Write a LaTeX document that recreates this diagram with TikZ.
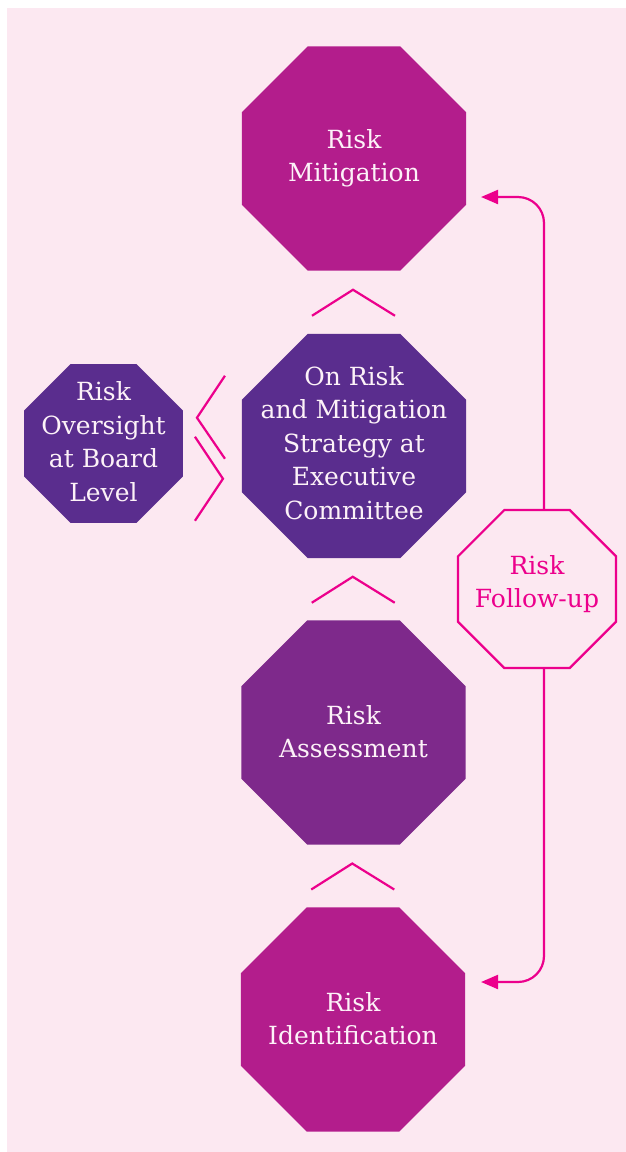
\documentclass[tikz,border=0pt]{standalone}
\usepackage{fontspec}
\setmainfont{DejaVu Serif}
\usetikzlibrary{shapes.geometric,arrows.meta,calc}
\definecolor{bgpink}{RGB}{252,232,241}
\definecolor{magentabox}{RGB}{179,29,140}
\definecolor{purplebox}{RGB}{90,45,142}
\definecolor{violetbox}{RGB}{126,41,139}
\definecolor{hotpink}{RGB}{236,0,140}
\definecolor{paletext}{RGB}{253,242,248}
\begin{document}
\begin{tikzpicture}[x=1pt,y=-1pt,
  oct/.style={regular polygon, regular polygon sides=8, inner sep=0pt, outer sep=0pt, draw=none},
  bigoct/.style={oct, minimum size=242.5pt},
  smalloct/.style={oct, minimum size=172pt},
  lbl/.style={align=center, inner sep=0pt, text=paletext, font=\fontsize{25}{33.5}\selectfont},
  pinklbl/.style={lbl, text=hotpink},
  conn/.style={draw=hotpink, line width=2.2pt, rounded corners=26pt, -{Triangle[length=17pt,width=14pt]}},
  chev/.style={draw=hotpink, line width=2.2pt}
]
\useasboundingbox (0,0) rectangle (626,1152);
\fill[bgpink] (7,8) rectangle (626,1152);

% octagons
\node[bigoct, fill=magentabox] (mit) at (354,158.5) {};
\node[bigoct, fill=purplebox] (exec) at (354,446) {};
\node[smalloct, fill=purplebox] (board) at (103.5,443.5) {};
\node[bigoct, fill=violetbox] (assess) at (353.5,732.5) {};
\node[bigoct, fill=magentabox] (ident) at (353,1019.5) {};
\node[oct, minimum size=171pt, draw=hotpink, line width=2.2pt] (fu) at (537,589) {};

% labels
\node[lbl] (mitT) at ($(mit.center)+(0,0)$) {Risk\\Mitigation};
\node[lbl] (execT) at ($(exec.center)+(0,-3)$) {On Risk\\and Mitigation\\Strategy at\\Executive\\Committee};
\node[lbl] (boardT) at ($(board.center)+(0,-2)$) {Risk\\Oversight\\at Board\\Level};
\node[lbl] (assessT) at ($(assess.center)+(0,-1)$) {Risk\\Assessment};
\node[lbl] (identT) at ($(ident.center)+(0,-1)$) {Risk\\Identification};
\node[pinklbl] (fuT) at ($(fu.center)+(0,-5)$) {Risk\\Follow-up};

% follow-up connectors
\draw[conn] ($(fu.north)+(7,0)$) |- ($(mit.east)+(15,38.5)$);
\draw[conn] ($(fu.south)+(7,0)$) |- ($(ident.east)+(16,-37.5)$);

% chevrons between stacked octagons
\coordinate (c1) at ($(mit.south)!0.5!(exec.north)$);
\coordinate (c2) at ($(exec.south)!0.5!(assess.north)$);
\coordinate (c3) at ($(assess.south)!0.5!(ident.north)$);
\foreach \c in {c1,c2,c3}{
  \draw[chev] ($(\c)+(-42,13.5)$) -- ($(\c)+(-1,-12.5)$) -- ($(\c)+(41,13.5)$);
}

% chevrons between board and executive committee
\coordinate (c4) at ($(board.east)!0.5!(exec.west)$);
\draw[chev] ($(c4)+(12.5,-69)$) -- ($(c4)+(-15.5,-27)$) -- ($(c4)+(12.5,14)$);
\draw[chev] ($(c4)+(-17.5,-8)$) -- ($(c4)+(10.5,34)$) -- ($(c4)+(-17.5,76)$);
\end{tikzpicture}
\end{document}
